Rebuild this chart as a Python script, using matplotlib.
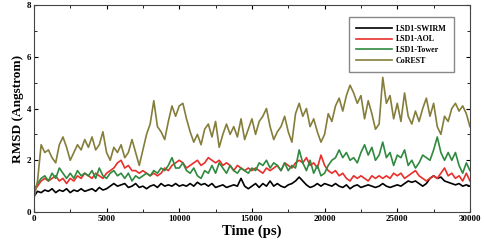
import matplotlib
matplotlib.use("Agg")
import matplotlib.pyplot as plt
from matplotlib.ticker import MultipleLocator

plt.rcParams['font.family'] = 'Liberation Serif'
plt.rcParams['font.weight'] = 'bold'

# time axis, one reading every 250 ps
time_ps = list(range(0, 30001, 250))

swirm = [0.6, 0.8, 0.75, 0.85, 0.8, 0.9, 0.75, 0.85, 0.8, 0.9, 0.75, 0.85, 0.8, 0.9, 0.8, 0.85,
         0.9, 0.8, 0.95, 0.85, 0.9, 1.0, 1.1, 1.0, 1.05, 1.1, 0.95, 1.0, 1.1, 0.95, 1.0, 0.9,
         1.0, 1.05, 0.95, 1.1, 1.0, 1.05, 1.0, 1.1, 1.0, 1.05, 1.0, 1.1, 1.0, 1.15, 1.05, 1.1,
         1.0, 1.1, 0.95, 1.0, 1.05, 0.95, 1.0, 1.05, 1.0, 1.3, 1.0, 0.9, 1.0, 1.1, 0.95, 1.1,
         1.0, 1.2, 1.0, 1.1, 1.0, 0.95, 1.05, 1.1, 1.2, 1.35, 1.2, 1.05, 0.95, 1.0, 1.1, 1.0,
         1.1, 1.05, 1.0, 1.1, 1.0, 0.95, 1.05, 0.9, 1.0, 1.05, 0.95, 1.0, 1.05, 1.0, 0.95, 1.0,
         1.1, 1.0, 0.95, 1.0, 1.05, 1.0, 1.1, 1.2, 1.15, 1.2, 1.1, 1.0, 1.1, 1.3, 1.4, 1.3,
         1.35, 1.2, 1.15, 1.1, 1.05, 1.1, 1.0, 1.05, 1.0]

aol = [0.8, 1.0, 1.2, 1.3, 1.2, 1.3, 1.4, 1.2, 1.3, 1.1, 1.3, 1.2, 1.4, 1.3, 1.5, 1.4,
       1.3, 1.5, 1.4, 1.3, 1.5, 1.6, 1.7, 1.9, 2.0, 1.7, 1.8, 1.6, 1.6, 1.5, 1.6, 1.5,
       1.4, 1.5, 1.4, 1.5, 1.7, 1.6, 1.8, 1.9, 2.0, 1.9, 1.7, 1.8, 1.9, 2.0, 1.8, 1.9,
       2.1, 2.0, 1.9, 2.0, 1.8, 1.9, 1.8, 1.6, 1.8, 1.7, 1.6, 1.7, 1.6, 1.7, 1.6, 1.5,
       1.7, 1.6, 1.7, 1.8, 1.6, 1.9, 1.8, 1.7, 1.9, 2.0, 1.9, 2.1, 1.8, 1.9, 1.7, 2.2,
       1.8, 1.6, 1.5, 1.6, 1.4, 1.5, 1.3, 1.2, 1.4, 1.3, 1.4, 1.3, 1.2, 1.4, 1.3, 1.4,
       1.3, 1.4, 1.3, 1.5, 1.4, 1.5, 1.3, 1.4, 1.5, 1.6, 1.4, 1.3, 1.2, 1.3, 1.4, 1.3,
       1.5, 1.7, 1.4, 1.5, 1.3, 1.4, 1.2, 1.5, 1.2]

tower = [0.8, 1.1, 1.3, 1.4, 1.2, 1.5, 1.3, 1.7, 1.5, 1.3, 1.5, 1.3, 1.6, 1.4, 1.5, 1.4,
         1.6, 1.3, 1.7, 1.4, 1.3, 1.5, 1.6, 1.4, 1.5, 1.3, 1.5, 1.2, 1.4, 1.3, 1.4, 1.5,
         1.4, 1.6, 1.5, 1.7, 1.6, 1.8, 2.1, 1.7, 1.7, 1.9, 1.6, 1.5, 1.7, 1.4, 1.3, 1.6,
         1.5, 1.8, 1.5, 1.9, 1.7, 1.5, 1.8, 1.6, 1.5, 1.7, 1.6, 1.5, 1.7, 1.6, 1.9, 1.8,
         2.0, 1.7, 1.9, 1.8, 1.6, 1.9, 1.6, 1.8, 1.7, 2.4, 1.9, 1.6, 2.0, 1.5, 1.8, 1.4,
         1.5, 1.8, 2.0, 2.1, 2.4, 2.1, 2.3, 2.0, 2.1, 1.9, 2.3, 2.6, 2.2, 2.5, 2.0, 2.2,
         2.7, 2.1, 2.3, 1.8, 2.2, 2.1, 2.4, 1.8, 2.0, 1.7, 1.9, 2.2, 2.1, 2.0, 2.4, 2.9,
         2.3, 2.0, 2.3, 2.0, 2.3, 1.8, 1.5, 1.9, 1.6]

corest = [0.5, 1.2, 2.6, 2.3, 2.4, 2.1, 1.9, 2.6, 2.9, 2.5, 2.0, 2.3, 2.6, 2.4, 2.8, 2.5,
          2.9, 2.4, 2.6, 3.1, 2.3, 2.0, 2.5, 2.3, 2.6, 2.1, 2.3, 2.8, 2.3, 1.8, 2.4, 3.0,
          3.4, 4.3, 3.3, 3.1, 2.8, 3.5, 4.1, 3.7, 4.1, 4.2, 3.6, 3.1, 2.7, 3.0, 2.6, 3.2,
          3.4, 2.9, 3.5, 2.5, 3.0, 3.4, 3.0, 3.3, 2.9, 3.6, 2.8, 3.2, 3.6, 3.0, 3.5, 3.7,
          4.0, 3.3, 2.8, 3.1, 3.3, 3.7, 3.1, 2.7, 3.8, 4.2, 3.7, 4.0, 3.3, 3.6, 3.1, 2.7,
          3.0, 3.8, 3.5, 4.1, 4.4, 3.9, 4.5, 4.9, 4.6, 4.2, 4.5, 3.6, 4.3, 3.8, 3.2, 3.4,
          5.2, 4.2, 4.5, 3.6, 4.2, 3.5, 4.6, 3.7, 3.4, 3.9, 3.5, 4.0, 4.4, 3.7, 4.2, 3.3,
          3.0, 3.7, 3.5, 4.0, 4.2, 3.9, 4.1, 3.8, 3.3]

series = [("LSD1-SWIRM", swirm, "#000000"),
          ("LSD1-AOL", aol, "#e8302a"),
          ("LSD1-Tower", tower, "#2f8a3f"),
          ("CoREST", corest, "#857d3a")]

fig = plt.figure(figsize=(4.84, 2.48), dpi=100)
ax = fig.add_axes([0.070, 0.145, 0.901, 0.835])

for name, vals, col in series:
    ax.plot(time_ps, vals, color=col, lw=1.2, label=name)

ax.set_xlim(0, 30000)
ax.set_ylim(0, 8)
ax.xaxis.set_major_locator(MultipleLocator(5000))
ax.xaxis.set_minor_locator(MultipleLocator(2500))
ax.yaxis.set_major_locator(MultipleLocator(2))
ax.yaxis.set_minor_locator(MultipleLocator(1))
ax.tick_params(which='both', direction='in', top=True, right=True, labelsize=6.5, pad=2)
ax.tick_params(which='major', length=3)
ax.tick_params(which='minor', length=2)
for lab in ax.get_xticklabels() + ax.get_yticklabels():
    lab.set_fontweight('bold')
for s in ax.spines.values():
    s.set_color('#444444')

ax.set_xlabel("Time (ps)", fontsize=10.5, fontweight='bold', labelpad=1)
ax.set_ylabel("RMSD (Angstrom)", fontsize=9.5, fontweight='bold', labelpad=2)

leg = ax.legend(loc='upper right', bbox_to_anchor=(0.972, 0.96), fontsize=5.8,
                handlelength=4.4, handletextpad=0.5, labelspacing=0.35,
                borderpad=0.9, fancybox=False, framealpha=1)
leg.get_frame().set_edgecolor('#888888')
leg.get_frame().set_linewidth(1.0)
for t in leg.get_texts():
    t.set_fontweight('bold')

fig.savefig("out.png", dpi=100)
